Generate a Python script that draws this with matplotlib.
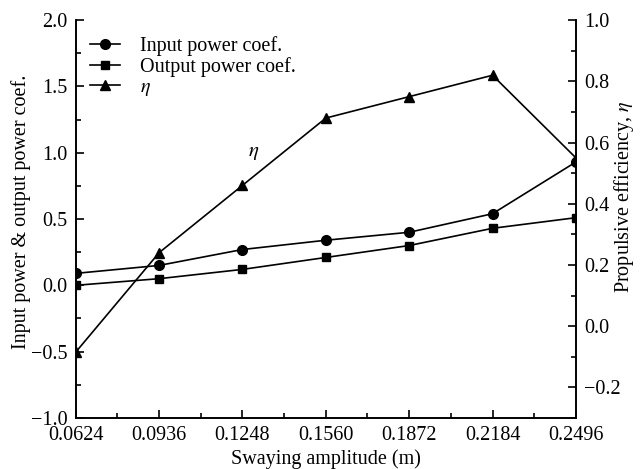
import matplotlib.pyplot as plt
from matplotlib.ticker import MultipleLocator, AutoMinorLocator

plt.rcParams['font.family'] = ['Liberation Serif', 'DejaVu Serif']
plt.rcParams['mathtext.fontset'] = 'stix'

amplitude = [0.0624, 0.0936, 0.1248, 0.1560, 0.1872, 0.2184, 0.2496]
tick_labels = ['0.0624', '0.0936', '0.1248', '0.1560', '0.1872', '0.2184', '0.2496']
input_coef = [0.09, 0.15, 0.27, 0.34, 0.40, 0.54, 0.93]
output_coef = [0.00, 0.05, 0.12, 0.21, 0.30, 0.43, 0.51]
eta = [-0.085, 0.24, 0.46, 0.68, 0.75, 0.82, 0.55]

fig = plt.figure(figsize=(6.42, 4.69), dpi=100)
ax = fig.add_axes([0.118, 0.109, 0.779, 0.848])
ax2 = ax.twinx()

l1, = ax.plot(amplitude, input_coef, 'k-', marker='o', ms=7, lw=1.2, label='Input power coef.')
l2, = ax.plot(amplitude, output_coef, 'k-', marker='s', ms=6, lw=1.2, label='Output power coef.')
l3, = ax2.plot(amplitude, eta, 'k-', marker='^', ms=7, lw=1.2, label=r'$\eta$')

ax.set_xlim(0.0624, 0.2496)
ax.set_ylim(-1.0, 2.0)
ax2.set_ylim(-0.3, 1.0)
ax.set_xticks(amplitude)
ax.set_xticklabels(tick_labels)
ax.xaxis.set_minor_locator(AutoMinorLocator(2))
ax.yaxis.set_major_locator(MultipleLocator(0.5))
ax.yaxis.set_minor_locator(AutoMinorLocator(2))
ax2.yaxis.set_major_locator(MultipleLocator(0.2))
ax2.yaxis.set_minor_locator(AutoMinorLocator(2))
ax.yaxis.set_major_formatter(plt.FuncFormatter(lambda v, p: f'{v:.1f}'.replace('-', '\u2212')))
ax2.yaxis.set_major_formatter(plt.FuncFormatter(lambda v, p: f'{v:.1f}'.replace('-', '\u2212')))

for a in (ax, ax2):
    a.spines['top'].set_visible(False)
    for s in a.spines.values():
        s.set_linewidth(1.2)
    a.tick_params(which='both', direction='in', labelsize=14.5, width=1.2, pad=6)
    a.tick_params(which='major', length=6)
    a.tick_params(which='minor', length=3.5)

ax.set_xlabel('Swaying amplitude (m)', fontsize=14.5, labelpad=3)
ax.set_ylabel('Input power & output power coef.', fontsize=14.5)
ax2.set_ylabel(r'Propulsive efficiency, $\eta$', fontsize=14.5)
ax.yaxis.set_label_coords(-0.09, 0.518)
ax2.yaxis.set_label_coords(1.072, 0.555)

ax.text(0.129, 1.0, r'$\eta$', fontsize=15, ha='center', va='center')

ax.legend(handles=[l1, l2, l3], loc='upper left', frameon=False, fontsize=14.5,
          handlelength=1.5, handletextpad=1.0, borderaxespad=0.3, labelspacing=0.05,
          bbox_to_anchor=(0.0, 0.995))

fig.savefig('out.png', dpi=100)
